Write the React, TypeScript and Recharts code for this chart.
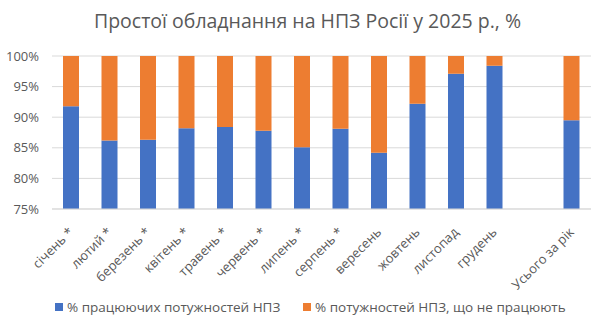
import { BarChart, Bar, XAxis, YAxis, CartesianGrid } from 'recharts';

const months = [
    'січень *', 'лютий *', 'березень *', 'квітень *', 'травень *', 'червень *',
    'липень *', 'серпень *', 'вересень', 'жовтень', 'листопад', 'грудень', '', 'Усього за рік',
];
const working = [91.8, 86.2, 86.3, 88.2, 88.4, 87.8, 85.1, 88.1, 84.2, 92.2, 97.1, 98.4, null, 89.5];
const yTicks = [75, 80, 85, 90, 95, 100];

const BLUE = '#4472C4';
const ORANGE = '#ED7D31';
const GRAY = '#595959';
const FONT = '"Open Sans", sans-serif';

const data = months.map((m, i) => ({
    name: m,
    working: working[i],
    idle: working[i] == null ? null : +(100 - (working[i] as number)).toFixed(1),
}));

// rotated month labels, anchored just below the axis like Excel does
function MonthTick({ x, y, payload }: any) {
    const tx = x + 3;
    const ty = y + 16;
    return (
        <text x={tx} y={ty} textAnchor="end" fill={GRAY} fontSize={13} fontFamily={FONT}
            transform={`rotate(-45, ${tx}, ${ty})`}>
            {payload.value}
        </text>
    );
}

function LegendItem({ left, color, label }: { left: number; color: string; label: string }) {
    return (
        <div style={{ position: 'absolute', left, top: 298, display: 'flex', alignItems: 'center', fontSize: 13.5, color: GRAY, whiteSpace: 'nowrap' }}>
            <span style={{ width: 8, height: 8, background: color, marginRight: 4 }} />
            {label}
        </div>
    );
}

export default function App() {
    return (
        <div style={{ position: 'relative', width: 595, height: 332, background: '#fff', fontFamily: FONT }}>
            <style>{`body{margin:0}`}</style>
            <div style={{ position: 'absolute', top: 7, left: 10, width: 595, textAlign: 'center', fontSize: 19.5, color: GRAY, whiteSpace: 'nowrap' }}>
                Простої обладнання на НПЗ Росії у 2025 р., %
            </div>
            <BarChart width={595} height={332} data={data} margin={{ top: 56, right: 4, left: 5, bottom: 43 }} barSize={16}>
                <CartesianGrid vertical={false} stroke="#D9D9D9" />
                <XAxis
                    dataKey="name"
                    interval={0}
                    axisLine={{ stroke: '#D9D9D9' }}
                    tickLine={false}
                    height={80}
                    tick={<MonthTick />}
                />
                <YAxis
                    domain={[75, 100]}
                    ticks={yTicks}
                    allowDataOverflow
                    width={47}
                    axisLine={false}
                    tickLine={false}
                    tickFormatter={(v) => `${v}%`}
                    tick={{ fill: GRAY, fontSize: 13, fontFamily: FONT, dx: -5 }}
                />
                <Bar dataKey="working" stackId="a" fill={BLUE} isAnimationActive={false} />
                <Bar dataKey="idle" stackId="a" fill={ORANGE} isAnimationActive={false} />
            </BarChart>
            <LegendItem left={55} color={BLUE} label="% працюючих потужностей НПЗ" />
            <LegendItem left={303} color={ORANGE} label="% потужностей НПЗ, що не працюють" />
        </div>
    );
}
